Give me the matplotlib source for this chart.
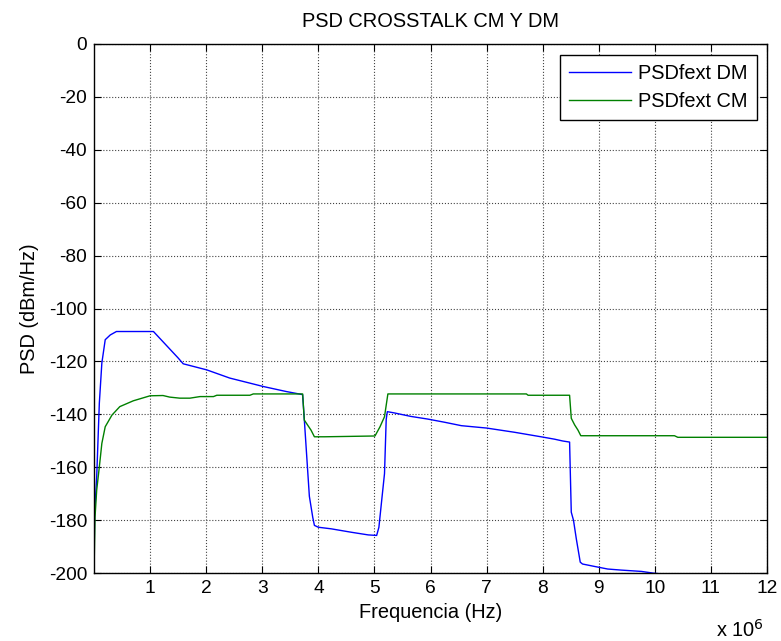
import matplotlib
matplotlib.use("Agg")
import matplotlib.pyplot as plt
import numpy as np

plt.rcParams['font.family'] = ['Liberation Sans', 'DejaVu Sans']

title = "PSD CROSSTALK CM Y DM"
xlabel = "Frequencia (Hz)"
ylabel = "PSD (dBm/Hz)"
legend_labels = ["PSDfext DM", "PSDfext CM"]

# Frequency in MHz (x 10^6 Hz), PSD in dBm/Hz
dm_f = [0.0, 0.0, 0.01, 0.048, 0.095, 0.14, 0.2, 0.29, 0.4, 1.06, 1.5, 1.59, 2.01, 2.42, 3.02, 3.43, 3.68,
        3.72, 3.75, 3.84, 3.9, 3.93, 4.0, 4.23, 4.59, 4.89, 5.04, 5.08, 5.13, 5.18, 5.21, 5.23,
        5.36, 5.65, 5.95, 6.25, 6.55, 7.0, 7.5, 7.97, 8.21, 8.36, 8.48,
        8.51, 8.55, 8.6, 8.67, 8.71, 8.92, 9.16, 9.4, 9.76, 9.99, 10.26, 10.6, 11.0, 12.0]
dm_v = [-200, -200, -178, -163.7, -135.8, -120.6, -111.8, -110, -108.7, -108.7, -118.7, -120.9, -123.2, -126.3, -129.5, -131.4, -132.4,
        -132.6, -142, -171, -178.9, -182, -182.7, -183.3, -184.6, -185.6, -185.8, -182.7, -172.5, -162.4, -142, -139,
        -139.5, -140.8, -141.8, -143, -144.3, -145.2, -146.8, -148.5, -149.4, -150.1, -150.5,
        -177, -180.1, -187.1, -195.9, -196.6, -197.5, -198.5, -198.9, -199.4, -200.1, -200.6, -201.2, -201.8, -203]

cm_f = [0.0, 0.0, 0.018, 0.048, 0.095, 0.14, 0.2, 0.32, 0.46, 0.7, 1.0, 1.23, 1.35, 1.53, 1.71, 1.89, 2.13, 2.19,
        2.78, 2.84, 3.68, 3.72, 3.75, 3.87, 3.93, 4.11, 5.01, 5.1, 5.18, 5.24,
        7.71, 7.74, 8.48, 8.51, 8.57, 8.63, 8.68, 10.35, 10.41, 12.0]
cm_v = [-200, -200, -178.9, -168.7, -159.9, -151, -144.7, -140.3, -137.1, -134.9, -133, -132.9, -133.5, -133.9, -133.9, -133.3, -133.3, -132.8,
        -132.8, -132.3, -132.3, -132.3, -142.2, -146, -148.5, -148.5, -148.2, -144.7, -140.9, -132.3,
        -132.3, -132.8, -132.8, -141.5, -144, -146, -148.1, -148.1, -148.7, -148.7]

xticks = list(range(1, 13))
yticks = list(range(-200, 1, 20))

fig = plt.figure(figsize=(7.81, 6.41), dpi=100)
ax = fig.add_axes([94/781, 1 - 573/641, 673/781, 529/641])

ax.plot(dm_f, dm_v, color=(0, 0, 1), lw=1.0, label=legend_labels[0])
ax.plot(cm_f, cm_v, color=(0, 0.5, 0), lw=1.0, label=legend_labels[1])

ax.set_xlim(0, 12)
ax.set_ylim(-200, 0)
ax.set_xticks(xticks)
ax.set_xticklabels([str(t) for t in xticks])
ax.set_yticks(yticks)
ax.set_yticklabels([str(t) for t in yticks])
fs_tick = 13.8
fs = 14.4
ax.tick_params(direction='in', top=True, right=True, length=5, width=0.8, labelsize=fs_tick, pad=5)
ax.grid(True, color='#444444', linestyle=':', lw=0.8)
for s in ax.spines.values():
    s.set_linewidth(1.0)
    s.set_color('black')

ax.set_title(title, fontsize=fs, pad=12)
ax.set_xlabel(xlabel, fontsize=fs, labelpad=4)
ax.set_ylabel(ylabel, fontsize=fs, labelpad=7)

fig.text(740/781, 1 - 630/641, r"x 10$^6$", fontsize=fs, ha='center', va='center')

leg = ax.legend(loc='upper right', bbox_to_anchor=(0.985, 0.979), borderaxespad=0,
                fontsize=fs, frameon=True, fancybox=False, framealpha=1, edgecolor='black',
                handlelength=3.1, handletextpad=0.35, labelspacing=0.45, borderpad=0.45)
leg.get_frame().set_linewidth(1.0)

fig.savefig("out.png", dpi=100)
